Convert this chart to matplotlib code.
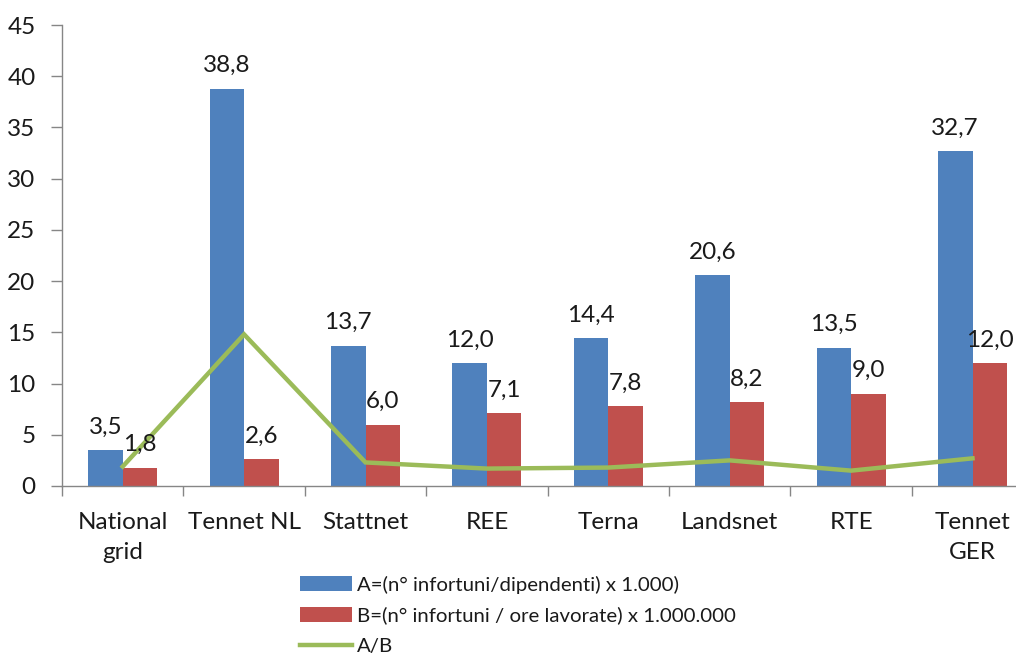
import matplotlib
matplotlib.use("Agg")
import matplotlib.pyplot as plt
from matplotlib.patches import Patch
from matplotlib.lines import Line2D
import numpy as np

plt.rcParams['font.family'] = ['Lato', 'DejaVu Sans']

categories = ["National\ngrid", "Tennet NL", "Stattnet", "REE", "Terna", "Landsnet", "RTE", "Tennet\nGER"]
series_a = [3.5, 38.8, 13.7, 12.0, 14.4, 20.6, 13.5, 32.7]
series_b = [1.8, 2.6, 6.0, 7.1, 7.8, 8.2, 9.0, 12.0]
ratio_ab = [1.9, 14.8, 2.3, 1.7, 1.8, 2.5, 1.5, 2.7]
label_a = "A=(n° infortuni/dipendenti) x 1.000)"
label_b = "B=(n° infortuni / ore lavorate) x 1.000.000"
label_r = "A/B"
yticks = [0, 5, 10, 15, 20, 25, 30, 35, 40, 45]

blue = "#4F81BD"
red = "#C0504D"
green = "#9BBB59"
axcol = "#868686"
txtcol = "#1a1a1a"

fig = plt.figure(figsize=(10.16, 6.55), dpi=100)
ax = fig.add_axes([62/1016, (655-486)/655, 8*121.4/1016, (486-25)/655])

x = np.arange(len(categories))
w = 0.285
ax.bar(x - w/2, series_a, width=w, color=blue, zorder=2)
ax.bar(x + w/2, series_b, width=w, color=red, zorder=2)
ax.plot(x, ratio_ab, color=green, lw=3.2, zorder=3, solid_joinstyle='miter')

fmt = lambda v: f"{v:.1f}".replace(".", ",")
for xi, v in zip(x - w/2, series_a):
    ax.annotate(fmt(v), (xi, v), xytext=(0, 9), textcoords='offset points',
                ha='center', va='bottom', fontsize=17.5, color=txtcol)
for xi, v in zip(x + w/2, series_b):
    ax.annotate(fmt(v), (xi, v), xytext=(0, 9), textcoords='offset points',
                ha='center', va='bottom', fontsize=17.5, color=txtcol)

ax.set_xlim(-0.5, len(categories) - 0.5)
ax.set_ylim(0, 45)
ax.set_yticks(yticks)
ax.set_yticklabels([str(t) for t in yticks], fontsize=17.5, color=txtcol)
ax.set_xticks(x)
ax.set_xticklabels(categories, fontsize=17.5, color=txtcol, linespacing=1.5)
ax.set_xticks(np.arange(len(categories) + 1) - 0.5, minor=True)
ax.tick_params(axis='x', which='major', length=0, pad=19)
ax.tick_params(axis='x', which='minor', length=7, color=axcol, width=1)
ax.tick_params(axis='y', length=8, color=axcol, width=1, pad=11)

for s in ['top', 'right']:
    ax.spines[s].set_visible(False)
for s in ['left', 'bottom']:
    ax.spines[s].set_color(axcol)
    ax.spines[s].set_linewidth(1)

handles = [Patch(facecolor=blue, label=label_a),
           Patch(facecolor=red, label=label_b),
           Line2D([0], [0], color=green, lw=3.2, label=label_r)]
leg = fig.legend(handles=handles, loc='upper left', bbox_to_anchor=(300/1016, 1 - 576/655),
                 frameon=False, fontsize=14.7, handlelength=2.55, handleheight=0.75,
                 handletextpad=0.25, labelspacing=0.62, borderpad=0, borderaxespad=0)
for t in leg.get_texts():
    t.set_color(txtcol)

fig.savefig("out.png", dpi=100)
